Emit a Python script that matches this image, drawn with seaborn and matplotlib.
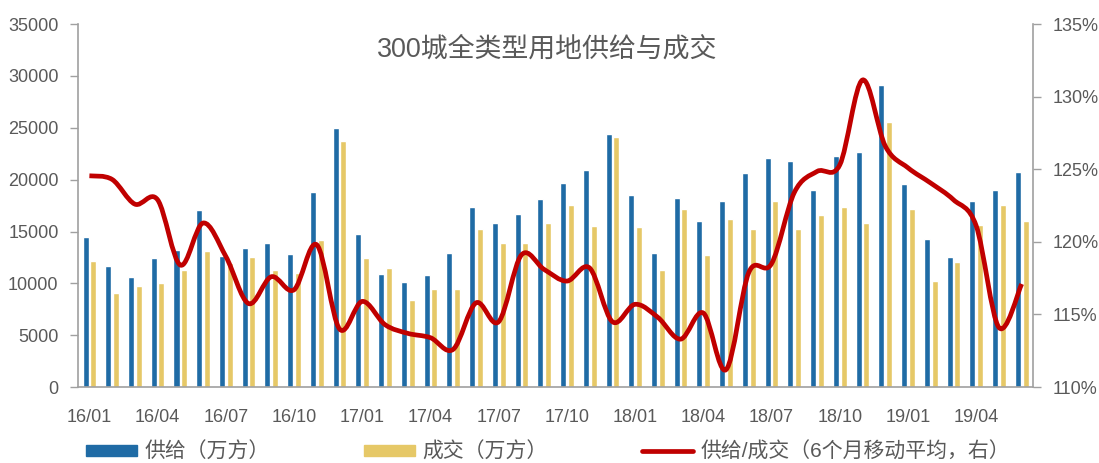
import numpy as np
import pandas as pd
import seaborn as sns
import matplotlib.pyplot as plt
from matplotlib.path import Path
from matplotlib.patches import PathPatch, Patch
from matplotlib.lines import Line2D
from matplotlib.ticker import FuncFormatter

sns.set_theme(style='white')
plt.rcParams['font.family'] = ['Liberation Sans', 'Noto Sans CJK SC']

# months 2016/01 .. 2019/06
months = [f'{y}/{m:02d}' for y in (16, 17, 18, 19) for m in range(1, 13)][:42]

# supply (10k m2)
supply = [14500, 11700, 10600, 12400, 13200, 17100, 12600, 13400, 13900, 12800, 18800, 25000,
          14800, 10900, 10100, 10800, 12900, 17400, 15800, 16700, 18100, 19700, 20900, 24400,
          18500, 12900, 18200, 16000, 17900, 20600, 22100, 21800, 19000, 22300, 22700, 29100,
          19600, 14300, 12500, 17900, 19000, 20700]
# transactions (10k m2)
deal = [12200, 9100, 9700, 10000, 11300, 13100, 12000, 12500, 11300, 11000, 14200, 23700,
        12400, 11500, 8400, 9500, 9500, 15200, 13900, 13900, 15800, 17600, 15500, 24100,
        15400, 11300, 17200, 12700, 16200, 15200, 17900, 15200, 16600, 17400, 15800, 25600,
        17200, 10200, 12100, 15600, 17600, 16000]
# supply / transactions, 6-month moving average (%)
ratio = [124.55, 124.3, 122.6, 122.9, 118.4, 121.3, 119.0, 115.75, 117.6, 116.7, 119.8, 114.0,
         115.9, 114.3, 113.7, 113.4, 112.6, 115.8, 114.5, 119.1, 118.1, 117.3, 118.2, 114.5,
         115.7, 114.8, 113.3, 115.1, 111.2, 117.9, 118.5, 123.4, 124.85, 125.3, 131.15, 126.6,
         125.1, 124.05, 122.9, 121.1, 114.1, 117.1]

blue = '#1F6BA5'
yellow = '#E6C867'
red = '#C00000'
grey_txt = '#595959'
grey_ax = '#A0A0A0'

lab_s = '供给（万方）'
lab_d = '成交（万方）'
lab_r = '供给/成交（6个月移动平均，右）'

df = pd.DataFrame({
    'month': months * 2,
    'value': supply + deal,
    'type': [lab_s] * len(months) + [lab_d] * len(months),
})

fig, ax = plt.subplots(figsize=(10.99, 4.63), dpi=100)
fig.subplots_adjust(left=0.071, right=0.94, bottom=0.164, top=0.948)

sns.barplot(data=df, x='month', y='value', hue='type', palette=[blue, yellow],
            width=0.68, gap=0.22, saturation=1, legend=False, ax=ax)

ax.set_xlim(-0.5, len(months) - 0.5)
ax.set_ylim(0, 35000)
ax.set_yticks(range(0, 35001, 5000))
ax.set_xticks(range(0, len(months), 3))
ax.set_xticklabels(months[::3])
ax.set_xlabel('')
ax.set_ylabel('')
ax.tick_params(axis='y', left=True, length=6, width=1, color=grey_ax,
               labelsize=13, labelcolor=grey_txt, pad=8)
ax.tick_params(axis='x', bottom=False, labelsize=13, labelcolor=grey_txt, pad=10)
for s in ['top', 'right']:
    ax.spines[s].set_visible(False)
for s in ['left', 'bottom']:
    ax.spines[s].set_color(grey_ax)
    ax.spines[s].set_linewidth(1.2)

# right axis with smoothed ratio line
ax2 = ax.twinx()
ax2.set_ylim(110, 135)
ax2.set_yticks(range(110, 136, 5))
ax2.yaxis.set_major_formatter(FuncFormatter(lambda v, p: f'{v:.0f}%'))
ax2.tick_params(axis='y', right=True, length=6, width=1, color=grey_ax,
                labelsize=13, labelcolor=grey_txt, pad=8)
for s in ['top', 'left', 'bottom']:
    ax2.spines[s].set_visible(False)
ax2.spines['right'].set_color(grey_ax)
ax2.spines['right'].set_linewidth(1.2)
ax2.grid(False)

pts = np.column_stack((np.arange(len(ratio)), ratio))
verts = [pts[0]]
codes = [Path.MOVETO]
n = len(pts)
for i in range(n - 1):
    p0 = pts[max(i - 1, 0)]
    p1 = pts[i]
    p2 = pts[i + 1]
    p3 = pts[min(i + 2, n - 1)]
    verts += [p1 + (p2 - p0) / 6, p2 - (p3 - p1) / 6, p2]
    codes += [Path.CURVE4] * 3
ax2.add_patch(PathPatch(Path(verts, codes), fill=False, edgecolor=red,
                        lw=3.4, capstyle='butt', joinstyle='round'))

ax.text(0.491, 0.93, '300城全类型用地供给与成交', transform=ax.transAxes,
        ha='center', va='center', fontsize=19.4, color=grey_txt)

handles = [Patch(color=blue), Patch(color=yellow), Line2D([], [], color=red, lw=3.4)]
fig.legend(handles, [lab_s, lab_d, lab_r], loc='center left',
           bbox_to_anchor=(0.078, 0.024), ncol=3, frameon=False, fontsize=15,
           labelcolor=grey_txt, handlelength=2.45, handleheight=0.5,
           handletextpad=0.38, columnspacing=4.5, borderpad=0, borderaxespad=0)

fig.savefig('out.png', dpi=100)
